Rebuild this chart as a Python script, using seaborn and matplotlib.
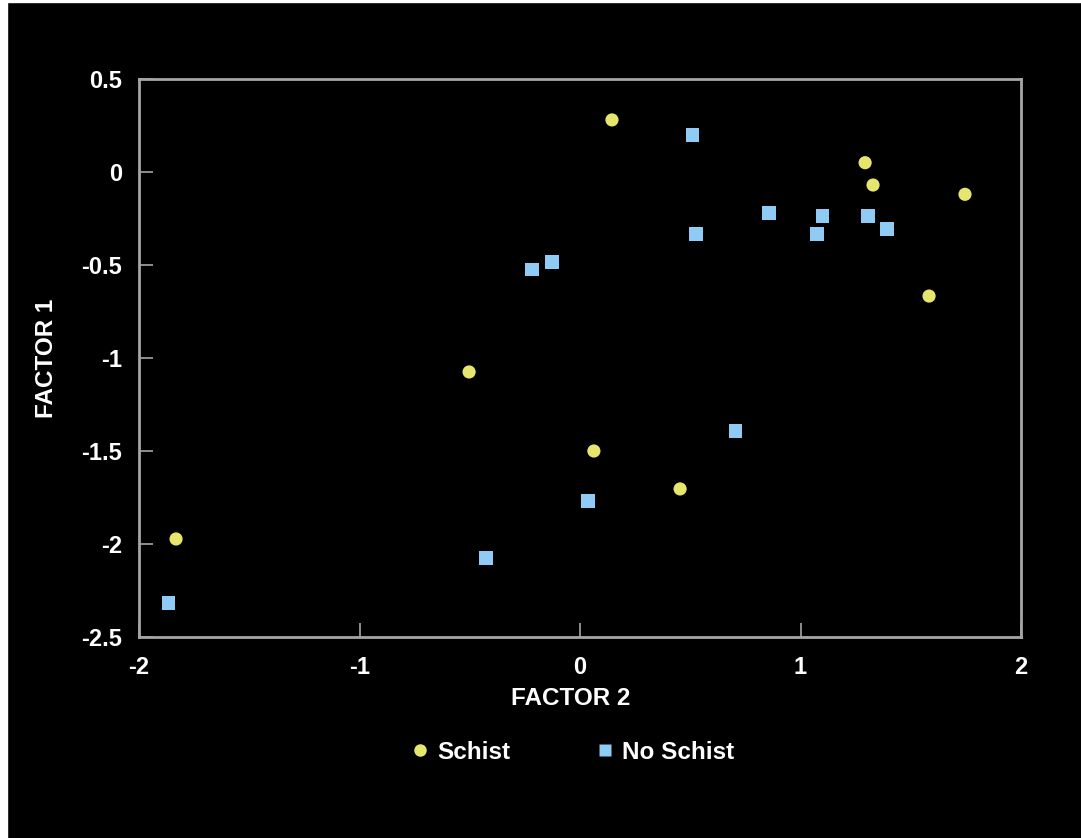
import matplotlib
matplotlib.use("Agg")
import matplotlib.pyplot as plt
import seaborn as sns
import pandas as pd
from matplotlib.patches import Rectangle
from matplotlib.lines import Line2D

schist_x = [0.145, 1.293, 1.329, 1.746, 1.583, -0.503, 0.063, 0.454, -1.832]
schist_y = [0.28, 0.05, -0.07, -0.12, -0.667, -1.075, -1.50, -1.704, -1.973]
noschist_x = [0.512, 0.857, 1.098, 1.306, 1.392, 1.075, 0.526, -0.127, -0.218, 0.707, 0.036, -0.426, -1.868]
noschist_y = [0.199, -0.22, -0.237, -0.237, -0.306, -0.333, -0.333, -0.484, -0.522, -1.392, -1.769, -2.075, -2.317]
groups = ["Schist", "No Schist"]
x_ticks = [-2, -1, 0, 1, 2]
y_ticks = [0.5, 0, -0.5, -1, -1.5, -2, -2.5]

df = pd.DataFrame({
    "x": schist_x + noschist_x,
    "y": schist_y + noschist_y,
    "g": [groups[0]] * len(schist_x) + [groups[1]] * len(noschist_x),
})

sns.set_style("dark")
plt.rcParams["font.family"] = ["Liberation Sans", "DejaVu Sans"]
plt.rcParams["font.weight"] = "bold"

fig = plt.figure(figsize=(10.81, 8.38), dpi=100, facecolor="black")
fig.patches.append(Rectangle((0, 0), 7 / 1081, 1, transform=fig.transFigure, color="white", zorder=-10))
fig.patches.append(Rectangle((0, 1 - 2 / 838), 1, 2 / 838, transform=fig.transFigure, color="white", zorder=-10))

ax = fig.add_axes([139 / 1081, 1 - 637 / 838, (1021 - 139) / 1081, (637 - 79) / 838])
ax.set_facecolor("black")

colors = {"Schist": "#E6E66E", "No Schist": "#8FCBF5"}
markers = {"Schist": "o", "No Schist": "s"}
sns.scatterplot(data=df, x="x", y="y", hue="g", style="g", palette=colors, markers=markers,
                s=90, edgecolor="none", ax=ax, legend=False)

ax.set_xlim(-2, 2)
ax.set_ylim(-2.5, 0.5)
ax.set_xticks(x_ticks)
ax.set_xticklabels([f"{t:g}" for t in x_ticks])
ax.set_yticks(y_ticks)
ax.set_yticklabels([f"{t:g}" for t in y_ticks])
ax.grid(False)
for s in ax.spines.values():
    s.set_visible(True)
    s.set_color("#A6A6A6")
    s.set_linewidth(2)
ax.tick_params(direction="in", length=10, width=1.2, color="#A6A6A6",
               labelcolor="white", labelsize=17, pad=12,
               bottom=True, left=True, top=False, right=False)
ax.tick_params(axis="x", pad=14)
for lbl in ax.get_xticklabels() + ax.get_yticklabels():
    lbl.set_fontweight("bold")

ax.set_xlabel("FACTOR 2", color="white", fontsize=17.5, fontweight="bold")
ax.xaxis.set_label_coords(0.49, -0.111)
ax.xaxis.label.set_verticalalignment("center")
ax.set_ylabel("FACTOR 1", color="white", fontsize=17.5, fontweight="bold", labelpad=17)

handles = [
    Line2D([], [], marker="o", linestyle="none", markersize=9, markerfacecolor=colors["Schist"], markeredgecolor="none", label="Schist"),
    Line2D([], [], marker="s", linestyle="none", markersize=9, markerfacecolor=colors["No Schist"], markeredgecolor="none", label="No Schist"),
]
leg = fig.legend(handles=handles, loc="center", bbox_to_anchor=(570 / 1081, 1 - 752 / 838), ncol=2,
                 frameon=False, fontsize=17.5, handletextpad=0.1, columnspacing=3.3, handlelength=1.2)
for t in leg.get_texts():
    t.set_color("white")
    t.set_fontweight("bold")

fig.savefig("out.png", dpi=100, facecolor=fig.get_facecolor())
